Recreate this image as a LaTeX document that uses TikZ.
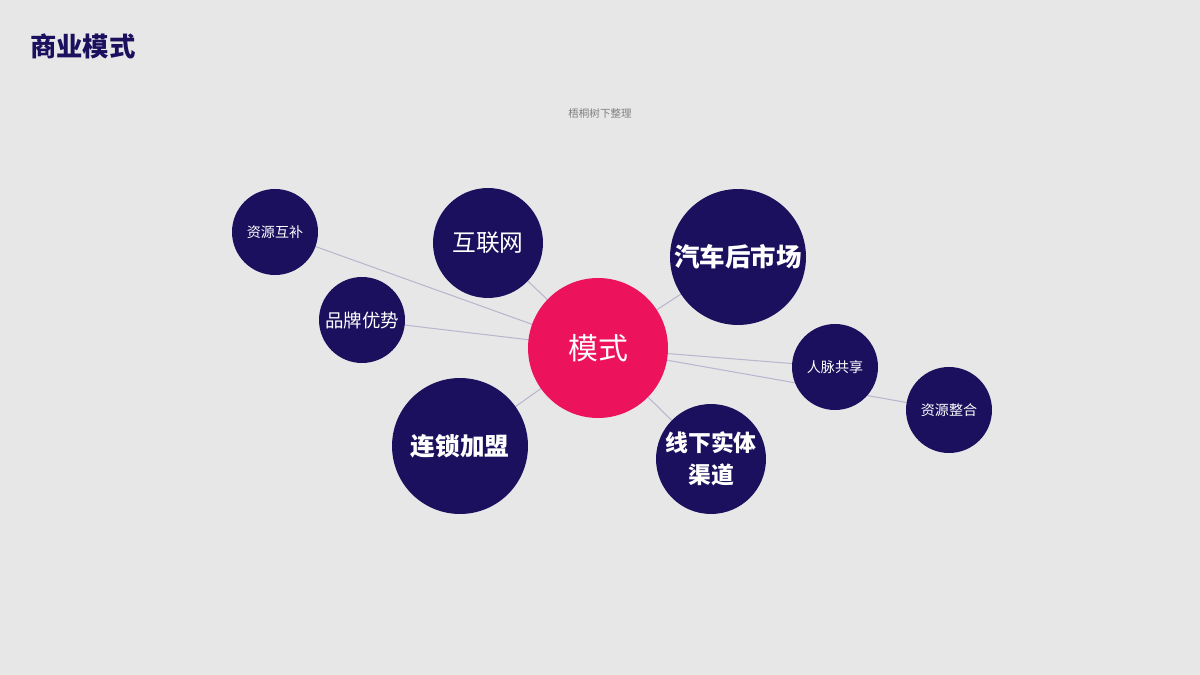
\documentclass[tikz,border=0pt]{standalone}
\usepackage{fontspec}
\newfontfamily\cjk{Noto Sans CJK SC}
\usetikzlibrary{backgrounds}
\definecolor{navy}{RGB}{27,16,94}
\definecolor{pinkc}{RGB}{236,18,92}
\definecolor{bgc}{RGB}{232,231,232}
\definecolor{linec}{RGB}{185,182,205}
\begin{document}
\begin{tikzpicture}[x=0.02cm,y=-0.02cm,
  bub/.style={circle,fill=navy,text=white,inner sep=0pt,align=center},
  link/.style={draw=linec,line width=0.6pt}]
\node[anchor=west,font=\cjk\bfseries\fontsize{15}{18}\selectfont,text=navy] (title) at (24,46) {商业模式};
\node[font=\cjk\fontsize{6}{7}\selectfont,text=gray] (sub) at (600,114) {梧桐树下整理};
\node[bub,minimum size=2.8cm,fill=pinkc,font=\cjk\fontsize{17}{20}\selectfont] (c) at (598,348) {模式};
\node[bub,minimum size=1.72cm,font=\cjk\fontsize{8}{10}\selectfont] (a) at (275,232) {资源互补};
\node[bub,minimum size=2.2cm,font=\cjk\fontsize{13.5}{16}\selectfont] (b) at (488,243) {互联网};
\node[bub,minimum size=2.72cm,font=\cjk\bfseries\fontsize{14.5}{17}\selectfont] (d) at (738,257) {汽车后市场};
\node[bub,minimum size=1.72cm,font=\cjk\fontsize{10.5}{12}\selectfont] (e) at (362,320) {品牌优势};
\node[bub,minimum size=1.72cm,font=\cjk\fontsize{8}{10}\selectfont] (f) at (835,367) {人脉共享};
\node[bub,minimum size=1.72cm,font=\cjk\fontsize{8}{10}\selectfont] (g) at (949,410) {资源整合};
\node[bub,minimum size=2.72cm,font=\cjk\bfseries\fontsize{14}{17}\selectfont] (h) at (460,446) {连锁加盟};
\node[bub,minimum size=2.2cm,font=\cjk\bfseries\fontsize{13}{18}\selectfont] (i) at (711,459) {线下实体\\渠道};
\begin{scope}[on background layer]
\fill[bgc] (0,0) rectangle (1200,675);
\foreach \n in {a,b,d,e,f,g,h,i} \draw[link] (c.center) -- (\n.center);
\end{scope}
\end{tikzpicture}
\end{document}
